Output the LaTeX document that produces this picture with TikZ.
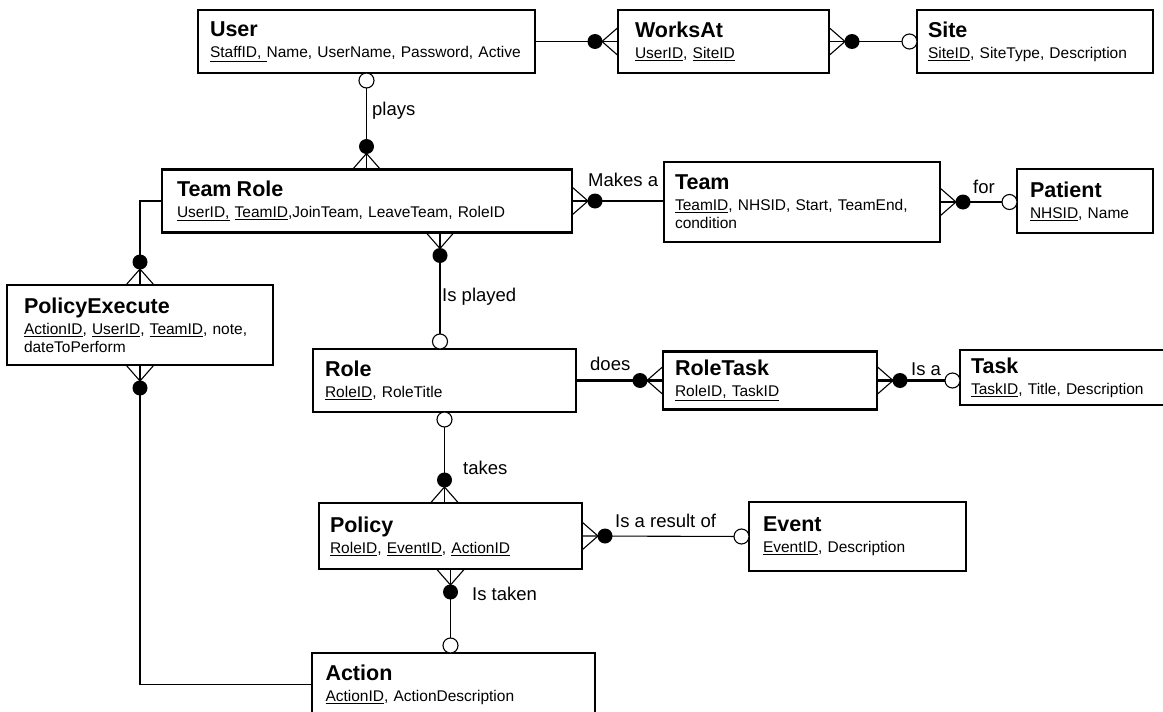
\documentclass[tikz,border=0pt]{standalone}
\usepackage{fontspec}
\setmainfont{Liberation Sans}
\usetikzlibrary{calc}

\newcommand{\ename}[1]{{\fontsize{21.5}{24}\selectfont\bfseries #1}\\[3pt]}
\newcommand{\key}[1]{\underline{#1}}
% many end: crow's foot and filled dot, #1 point on the box, #2 direction away from it
\newcommand{\crowdot}[2]{%
  \draw[foot] ($(#1)+(#2+90:14)$) -- ($(#1)+(#2:16)$) -- ($(#1)+(#2-90:14)$);
  \fill ($(#1)+(#2:23)$) circle (7.5);}
% optional end: open ring touching the box
\newcommand{\ringend}[2]{\draw[foot,fill=white] ($(#1)+(#2:7.5)$) circle (7.5);}

\begin{document}
\begin{tikzpicture}[x=1pt,y=-1pt,
  entity/.style={draw,line width=2.4pt,anchor=north west,outer sep=0pt,
    inner ysep=0pt,align=left,font=\fontsize{15.5}{18}\selectfont},
  rel/.style={font=\fontsize{18.5}{20}\selectfont,anchor=base west,inner sep=0pt},
  thin link/.style={line width=1.1pt},
  bold link/.style={line width=2.3pt},
  foot/.style={line width=1.1pt}]

  \useasboundingbox (0,0) rectangle (1163,712);

  % entities
  \node[entity,inner xsep=12pt,text width=313pt,minimum height=63pt] (user) at (198,10)
    {\ename{User}\key{StaffID, }Name, UserName, Password, Active};
  \node[entity,inner xsep=17pt,text width=177pt,minimum height=63pt] (worksat) at (618,10)
    {\ename{WorksAt}\key{UserID}, \key{SiteID}};
  \node[entity,inner xsep=11pt,text width=214pt,minimum height=63pt] (site) at (917,10)
    {\ename{Site}\key{SiteID}, SiteType, Description};
  \node[entity,inner xsep=15pt,text width=380pt,minimum height=63pt] (teamrole) at (162,169.5)
    {\ename{Team Role}\key{UserID,} \key{TeamID},JoinTeam, LeaveTeam, RoleID};
  \node[entity,inner xsep=11pt,text width=254pt,minimum height=80pt] (team) at (664,162)
    {\ename{Team}\key{TeamID}, NHSID, Start, TeamEnd,\\condition};
  \node[entity,inner xsep=13pt,text width=110pt,minimum height=64pt] (patient) at (1017,169)
    {\ename{Patient}\key{NHSID}, Name};
  \node[entity,inner xsep=17pt,text width=232pt,minimum height=80pt] (policyexec) at (7,285)
    {\ename{PolicyExecute}\key{ActionID}, \key{UserID}, \key{TeamID}, note,\\dateToPerform};
  \node[entity,inner xsep=12pt,text width=239pt,minimum height=63pt] (role) at (313,349)
    {\ename{Role}\key{RoleID}, RoleTitle};
  \node[entity,inner xsep=12pt,text width=190pt,minimum height=58pt] (roletask) at (663,351.5)
    {\ename{RoleTask}\key{RoleID, TaskID}};
  \node[entity,inner xsep=11pt,text width=193pt,minimum height=55pt] (task) at (960,350)
    {\ename{Task}\key{TaskID}, Title, Description};
  \node[entity,inner xsep=11pt,text width=241pt,minimum height=66pt] (policy) at (319,503)
    {\ename{Policy}\key{RoleID}, \key{EventID}, \key{ActionID}};
  \node[entity,inner xsep=14pt,text width=189pt,minimum height=69pt] (event) at (749,502)
    {\ename{Event}\key{EventID}, Description};
  \node[entity,inner xsep=13.5pt,text width=256pt,minimum height=63pt] (action) at (312,653)
    {\ename{Action}\key{ActionID}, ActionDescription};

  % connector ends
  \coordinate (xplayed) at (440,0);
  \coordinate (playsend) at (user.south |- teamrole.north);
  \coordinate (makesend) at (teamrole.east -| team.west);
  \coordinate (forend) at (team.east -| patient.west);
  \coordinate (playedtop) at (teamrole.south -| xplayed);
  \coordinate (playedbot) at (role.north -| xplayed);
  \coordinate (isaend) at (roletask.east -| task.west);
  \coordinate (takesend) at (role.south |- policy.north);
  \coordinate (takenend) at (policy.south |- action.north);

  % relationships
  \draw[thin link] (user.south) -- (playsend);
  \draw[thin link] (user.east) -- (worksat.west);
  \draw[thin link] (worksat.east) -- (site.west);
  \draw[bold link] (teamrole.east) -- (makesend);
  \draw[thin link] (team.east) -- (forend);
  \draw[thin link] (teamrole.west) -| (policyexec.north);
  \draw[bold link] (playedtop) -- (playedbot);
  \draw[thin link] (policyexec.south) |- (action.west);
  \draw[bold link] (role.east) -- (roletask.west);
  \draw[bold link] (roletask.east) -- (isaend);
  \draw[thin link] (role.south) -- (takesend);
  \draw[thin link] (policy.east) -- (event.west);
  \draw[thin link] (policy.south) -- (takenend);

  \ringend{user.south}{90}
  \crowdot{playsend}{270}
  \crowdot{worksat.west}{180}
  \crowdot{worksat.east}{0}
  \ringend{site.west}{180}
  \crowdot{teamrole.east}{0}
  \crowdot{team.east}{0}
  \ringend{forend}{180}
  \crowdot{policyexec.north}{270}
  \crowdot{playedtop}{90}
  \ringend{playedbot}{270}
  \crowdot{policyexec.south}{90}
  \crowdot{roletask.west}{180}
  \crowdot{roletask.east}{0}
  \ringend{isaend}{180}
  \ringend{role.south}{90}
  \crowdot{takesend}{270}
  \crowdot{policy.east}{0}
  \ringend{event.west}{180}
  \crowdot{policy.south}{90}
  \ringend{takenend}{270}

  % labels
  \node[rel] (lplays) at (372,115) {plays};
  \node[rel] (lmakes) at (588,186.5) {Makes a};
  \node[rel] (lfor) at (973,193) {for};
  \node[rel] (lplayed) at (442,301.5) {Is played};
  \node[rel] (ldoes) at (590,370) {does};
  \node[rel] (lisa) at (911,375) {Is a};
  \node[rel] (ltakes) at (463,474) {takes};
  \node[rel] (lresult) at (615,527.5) {Is a result of};
  \node[rel] (ltaken) at (472,600.5) {Is taken};
\end{tikzpicture}
\end{document}
